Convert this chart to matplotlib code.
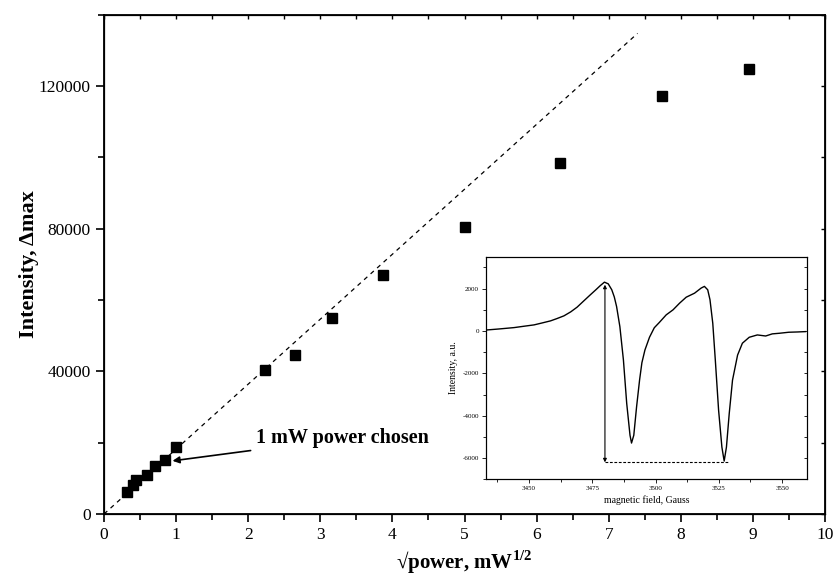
import numpy as np
import matplotlib
matplotlib.use('Agg')
from matplotlib import pyplot as plt
from matplotlib.ticker import MultipleLocator

plt.rcParams['font.family'] = ['Liberation Serif', 'DejaVu Serif']
plt.rcParams['mathtext.fontset'] = 'custom'
plt.rcParams['mathtext.rm'] = 'Liberation Serif'
plt.rcParams['mathtext.bf'] = 'Liberation Serif:bold'
plt.rcParams['axes.unicode_minus'] = False

# main data: sqrt(power) vs intensity
sqrt_power = [0.316, 0.40, 0.447, 0.59, 0.707, 0.84, 1.0,
              2.236, 2.646, 3.162, 3.873, 5.0, 6.325, 7.746, 8.944]
intensity = [6250, 8100, 9500, 10900, 13500, 15100, 18700,
             40500, 44500, 55000, 66900, 80400, 98300, 117100, 124700]

# linear guide
fit_x = [0, 7.4]
fit_y = [0, 134750]

# inset: EPR spectrum
field = [3433.6, 3438, 3444.1, 3448, 3452, 3455, 3458.5, 3461, 3463.8, 3466.5,
         3469, 3471.5, 3474.2, 3476.5, 3478.1, 3479.8, 3481.3, 3482.7, 3483.7,
         3484.6, 3485.9, 3487.3, 3488.6, 3489.9, 3490.5, 3491.4, 3492.5, 3493.7,
         3494.6, 3495.8, 3497.6, 3499.5, 3501.5, 3504.2, 3506.9, 3509.5, 3512.1,
         3515.4, 3518, 3519.3, 3520.6, 3521.5, 3522.6, 3523.6, 3524.9, 3526.2,
         3527.1, 3528, 3529.1, 3530.4, 3532.4, 3534.3, 3537, 3540.2, 3543.5,
         3546.1, 3549, 3552.6, 3556, 3559.2]
signal = [47, 90, 156, 220, 284, 370, 473, 580, 710, 900,
          1120, 1400, 1700, 1950, 2130, 2300, 2220, 1940, 1600,
          1150, 200, -1370, -3420, -4920, -5290, -4920, -3580, -2300,
          -1500, -900, -300, 150, 400, 757, 994, 1310, 1590,
          1780, 2020, 2100, 1940, 1470, 360, -1370, -3740, -5480,
          -6140, -5480, -3900, -2320, -1140, -580, -300, -190, -240,
          -140, -110, -63, -50, -33]

arrow_field = 3480
arrow_top = 2180
arrow_bottom = -6200
dash_end = 3528.8

fig = plt.figure(figsize=(8.35, 5.8), dpi=100)
ax = fig.add_axes([0.1246, 0.1138, 0.8634, 0.8609])

ax.plot(fit_x, fit_y, color='black', lw=0.9, dashes=(3.5, 3.5))
ax.plot(sqrt_power, intensity, 's', color='black', markersize=7)

ax.set_xlim(0, 10)
ax.set_ylim(0, 140000)
ax.xaxis.set_major_locator(MultipleLocator(1))
ax.xaxis.set_minor_locator(MultipleLocator(0.5))
ax.yaxis.set_major_locator(MultipleLocator(40000))
ax.yaxis.set_minor_locator(MultipleLocator(20000))
ax.tick_params(which='both', direction='out', width=1.2, labelsize=12.5)
ax.tick_params(which='major', length=6)
ax.tick_params(which='minor', length=4)
for s in ax.spines.values():
    s.set_linewidth(1.3)

# mirrored inward ticks on top/right
axt = ax.twiny()
axt.set_xlim(ax.get_xlim())
axt.xaxis.set_major_locator(MultipleLocator(1))
axt.xaxis.set_minor_locator(MultipleLocator(0.5))
axt.tick_params(which='both', direction='in', length=3, width=1, labeltop=False)
axr = ax.twinx()
axr.set_ylim(ax.get_ylim())
axr.yaxis.set_major_locator(MultipleLocator(40000))
axr.yaxis.set_minor_locator(MultipleLocator(20000))
axr.tick_params(which='both', direction='in', length=3, width=1, labelright=False)

ax.set_xlabel('\u221apower, mW$^{\\mathbf{1/2}}$', fontsize=15, fontweight='bold', labelpad=4)
ax.set_ylabel('Intensity, \u0394max', fontsize=16, fontweight='bold', labelpad=0)

ax.annotate('1 mW power chosen', xy=(0.95, 14900), xytext=(2.11, 21200),
            fontsize=14.5, fontweight='bold', va='center', ha='left',
            arrowprops=dict(arrowstyle='-|>', color='black', lw=1.2,
                            mutation_scale=10, shrinkA=2, shrinkB=0))

# inset
ins = fig.add_axes([0.582, 0.1736, 0.385, 0.3838])
ins.plot(field, signal, color='black', lw=1.0)
ins.annotate('', xy=(arrow_field, arrow_top), xytext=(arrow_field, arrow_bottom),
             arrowprops=dict(arrowstyle='<|-|>', color='black', lw=0.8,
                             mutation_scale=5, shrinkA=0, shrinkB=0))
ins.plot([arrow_field, dash_end], [arrow_bottom, arrow_bottom], color='black',
         lw=0.8, dashes=(2.5, 1.5))
ins.set_xlim(3433, 3560)
ins.set_ylim(-7000, 3500)
ins.xaxis.set_major_locator(MultipleLocator(25))
ins.xaxis.set_minor_locator(MultipleLocator(12.5))
ins.yaxis.set_major_locator(MultipleLocator(2000))
ins.yaxis.set_minor_locator(MultipleLocator(1000))
ins.tick_params(which='both', direction='out', labelsize=5, width=0.6, pad=2)
ins.tick_params(which='major', length=3)
ins.tick_params(which='minor', length=2)
for s in ins.spines.values():
    s.set_linewidth(0.8)
ins.set_xlabel('magnetic field, Gauss', fontsize=7, labelpad=3)
ins.set_ylabel('Intensity, a.u.', fontsize=7, labelpad=3)

insr = ins.twinx()
insr.set_ylim(ins.get_ylim())
insr.yaxis.set_major_locator(MultipleLocator(2000))
insr.yaxis.set_minor_locator(MultipleLocator(1000))
insr.tick_params(which='both', direction='in', length=2.5, width=0.6, labelright=False)

fig.savefig('out.png', dpi=100)
